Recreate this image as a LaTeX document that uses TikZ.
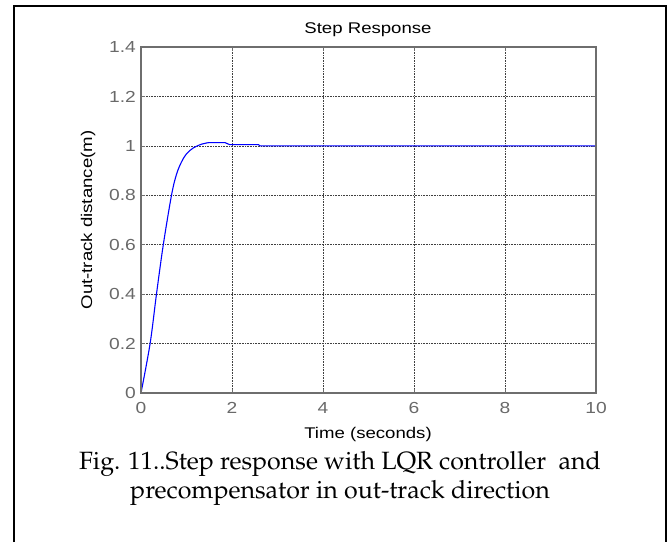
\documentclass[tikz,border=0pt]{standalone}
\usepackage[T1]{fontenc}
\usepackage{fontspec}
\usepackage{graphicx}
\newfontfamily\arialf{Liberation Sans}
\newcommand\palfont{\fontencoding{T1}\fontfamily{ppl}\selectfont}
\newcommand\sx[1]{\scalebox{1.2}[1]{#1}}
\definecolor{tickgray}{RGB}{105,105,105}
\definecolor{axisgray}{RGB}{110,110,110}
\begin{document}
\begin{tikzpicture}[x=1pt,y=-1pt,
  ticklab/.style={text=tickgray, font=\arialf\fontsize{16}{16}\selectfont, inner sep=0pt},
  axlab/.style={text=black, font=\arialf\fontsize{15.5}{15.5}\selectfont, inner sep=0pt},
  caplab/.style={text=black, font=\palfont\fontsize{25}{25}\selectfont, inner sep=0pt, anchor=base},
  gridline/.style={black!75, line width=0.6pt, dash pattern=on 0.8pt off 0.8pt},
  resp/.style={blue, line width=1.1pt, line join=round}]
\useasboundingbox (0,0) rectangle (667,542);
% outer frame
\draw[line width=2pt] (13.5,542) -- (13.5,5.5) -- (665.5,5.5) -- (665.5,542);
% grid
\foreach \t in {2,4,6,8} {
  \draw[gridline] ({141+45.5*\t},47) -- ({141+45.5*\t},393);
  \draw[axisgray, line width=0.6pt] ({141+45.5*\t},47) -- ({141+45.5*\t},51);
  \draw[axisgray, line width=0.6pt] ({141+45.5*\t},393) -- ({141+45.5*\t},389);
}
\foreach \i in {1,...,6} {
  \draw[gridline] (141,{393-49.43*\i}) -- (596,{393-49.43*\i});
  \draw[axisgray, line width=0.6pt] (141,{393-49.43*\i}) -- (145,{393-49.43*\i});
  \draw[axisgray, line width=0.6pt] (596,{393-49.43*\i}) -- (592,{393-49.43*\i});
}
% response
\draw[resp] plot[smooth, tension=0.55] coordinates {
  ({141+45.5*0},{393-247.1*0})
  ({141+45.5*0.2},{393-247.1*0.2})
  ({141+45.5*0.34},{393-247.1*0.4})
  ({141+45.5*0.49},{393-247.1*0.6})
  ({141+45.5*0.67},{393-247.1*0.8})
  ({141+45.5*0.78},{393-247.1*0.885})
  ({141+45.5*0.89},{393-247.1*0.935})
  ({141+45.5*1.0},{393-247.1*0.968})
  ({141+45.5*1.15},{393-247.1*0.992})
  ({141+45.5*1.33},{393-247.1*1.007})
  ({141+45.5*1.48},{393-247.1*1.013})}
  -- ({141+45.5*1.85},{393-247.1*1.013})
  -- ({141+45.5*1.95},{393-247.1*1.005})
  -- ({141+45.5*2.58},{393-247.1*1.005})
  -- ({141+45.5*2.62},{393-247.1*1.0})
  -- (596,{393-247.1*1.0});
% axes box
\draw[axisgray, line width=1.3pt] (141,47) rectangle (596,393);
% y tick labels
\foreach \i/\lab in {0/0,1/0.2,2/0.4,3/0.6,4/0.8,5/1,6/1.2,7/1.4}
  \node[ticklab, anchor=east] (yl\i) at (136,{393-49.43*\i}) {\sx{\lab}};
% x tick labels
\foreach \t in {0,2,4,6,8,10}
  \node[ticklab] (xl\t) at ({141+45.5*\t},408) {\sx{\t}};
% titles
\node[axlab] (title) at (368,30) {\sx{Step Response}};
\node[axlab] (xlab) at (368,434) {\sx{Time (seconds)}};
\node[axlab, rotate=90] (ylab) at (88,220) {\sx{Out-track distance(m)}};
% caption
\node[caplab] (cap1) at (340,469) {Fig. 11..Step response with LQR controller \ and};
\node[caplab] (cap2) at (340,498) {precompensator in out-track direction};
\end{tikzpicture}
\end{document}
